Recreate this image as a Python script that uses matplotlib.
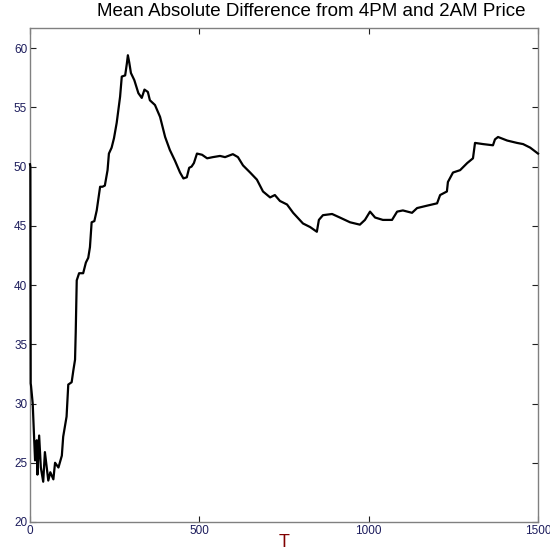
import matplotlib
matplotlib.use("Agg")
import matplotlib.pyplot as plt

# T values and mean absolute difference
t = [0, 1, 2, 3, 8, 12, 15, 20, 22, 27, 32, 39, 44, 54, 60, 69, 74, 84, 94, 98,
     108, 113, 123, 128, 133, 135, 138, 145, 157, 165, 172, 177, 182, 190, 197,
     207, 214, 221, 229, 233, 241, 248, 256, 266, 271, 281, 286, 289, 293, 298,
     308, 320, 330, 338, 348, 354, 369, 384, 399, 413, 428, 443, 453, 463, 470,
     477, 484, 493, 508, 523, 540, 561, 576, 599, 614, 629, 650, 670, 688, 709,
     723, 738, 759, 777, 806, 827, 847, 853, 865, 892, 915, 945, 974, 989, 1004,
     1019, 1042, 1069, 1084, 1101, 1128, 1143, 1172, 1202, 1211, 1231, 1234,
     1249, 1270, 1291, 1308, 1314, 1338, 1367, 1373, 1382, 1409, 1438, 1456,
     1477, 1500]
mad = [50.2, 50.0, 31.7, 31.5, 30.0, 27.2, 25.2, 26.9, 24.0, 27.3, 24.6, 23.4,
       25.9, 23.5, 24.2, 23.6, 25.0, 24.6, 25.6, 27.2, 28.9, 31.6, 31.8, 32.8,
       33.7, 36.0, 40.4, 41.0, 41.0, 41.9, 42.3, 43.2, 45.3, 45.4, 46.3, 48.3,
       48.3, 48.4, 49.7, 51.1, 51.6, 52.4, 53.7, 55.9, 57.6, 57.7, 58.7, 59.4,
       58.8, 57.9, 57.3, 56.2, 55.8, 56.5, 56.3, 55.6, 55.2, 54.2, 52.5, 51.4,
       50.5, 49.5, 49.0, 49.1, 49.9, 50.0, 50.3, 51.1, 51.0, 50.7, 50.8, 50.9,
       50.8, 51.05, 50.8, 50.1, 49.5, 48.9, 47.9, 47.4, 47.6, 47.1, 46.8, 46.1,
       45.2, 44.9, 44.5, 45.5, 45.9, 46.0, 45.7, 45.3, 45.1, 45.5, 46.2, 45.7,
       45.5, 45.5, 46.2, 46.3, 46.1, 46.5, 46.7, 46.9, 47.6, 47.9, 48.7, 49.5,
       49.7, 50.3, 50.7, 52.0, 51.9, 51.8, 52.3, 52.5, 52.2, 52.0, 51.9, 51.6,
       51.1]

plt.rcParams['font.family'] = ['Liberation Sans', 'DejaVu Sans']

fig = plt.figure(figsize=(5.5, 5.54), dpi=100)
ax = fig.add_axes([30 / 550, 32 / 554, 508 / 550, 494 / 554])

ax.plot(t, mad, color='black', linewidth=1.6, zorder=3, clip_on=False)

ax.set_xlim(0, 1500)
ax.set_ylim(20, 61.7)
ax.set_xticks([0, 500, 1000, 1500])
ax.set_yticks([20, 25, 30, 35, 40, 45, 50, 55, 60])

for s in ax.spines.values():
    s.set_color('#808080')
    s.set_linewidth(1.0)
ax.tick_params(direction='in', length=4, width=0.8, color='#202020',
               top=True, right=True, labelsize=8.5, labelcolor='#1c1c5c', pad=2)

ax.set_xlabel('T', color='#800000', fontsize=13, labelpad=-2)
fig.text(311 / 550, 1 - 3 / 554, 'Mean Absolute Difference from 4PM and 2AM Price',
         ha='center', va='top', fontsize=13.5, color='black')

fig.savefig('out.png', dpi=100)
